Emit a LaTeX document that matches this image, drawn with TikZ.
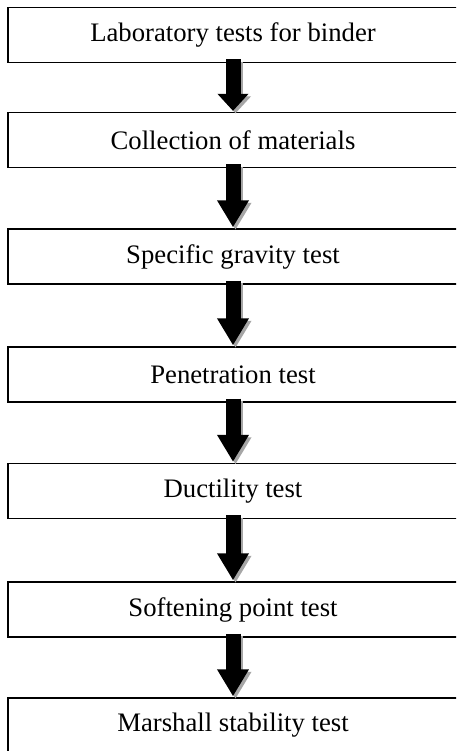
\documentclass[tikz,border=0pt]{standalone}
\usepackage{fontspec}
\setmainfont{Liberation Serif}
\usetikzlibrary{arrows.meta}
\tikzset{
  stepbox/.style={draw=black, line width=1.3pt, fill=white, minimum width=450pt, minimum height=55pt, inner sep=0pt, font=\fontsize{26.7}{32}\selectfont},
  bigarrow/.style={line width=15pt, -{Triangle[width=30pt,length=#1]}, shorten <=-4pt, shorten >=1pt},
  bigarrow/.default=27pt,
  shadowarrow/.style={bigarrow=#1, draw=black!35, transform canvas={shift={(2.5pt,-2.5pt)}}},
  shadowarrow/.default=27pt
}
\begin{document}
\begin{tikzpicture}[x=1pt,y=-1pt]
\fill[white] (0,0) rectangle (456,751);
\useasboundingbox (0,0) rectangle (456,751);
\clip (0,0) rectangle (456,751);
\node[stepbox] (b1) at (233,35) {Laboratory tests for binder};
\node[stepbox] (b2) at (233,140) {Collection of materials};
\node[stepbox] (b3) at (233,256.5) {Specific gravity test};
\node[stepbox] (b4) at (233,374.5) {Penetration test};
\node[stepbox] (b5) at (233,491) {Ductility test};
\node[stepbox] (b6) at (233,609.5) {Softening point test};
\node[stepbox] (b7) at (233,725.5) {Marshall stability test};
\draw[shadowarrow=17pt] (b1.south) -- (b2.north);
\draw[bigarrow=17pt] (b1.south) -- (b2.north);
\foreach \a/\b in {b2/b3,b3/b4,b4/b5,b5/b6,b6/b7}{
  \draw[shadowarrow] (\a.south) -- (\b.north);
  \draw[bigarrow] (\a.south) -- (\b.north);
}
\end{tikzpicture}
\end{document}
